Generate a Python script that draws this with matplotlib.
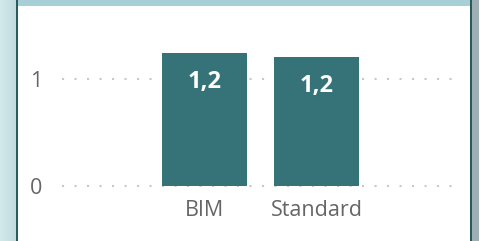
import matplotlib
matplotlib.use('Agg')
import matplotlib.pyplot as plt
import numpy as np
from matplotlib.patches import Rectangle
from matplotlib.colors import LinearSegmentedColormap

categories = ['BIM', 'Standard']
values = [1.24, 1.21]
bar_labels = ['1,2', '1,2']

plt.rcParams['font.family'] = ['Open Sans', 'DejaVu Sans']

W, H = 479, 241
fig = plt.figure(figsize=(W / 100, H / 100), dpi=100)
fig.patch.set_facecolor('white')

# frame decorations (pixel coords -> figure fraction)
def px_rect(x0, y0, x1, y1, color):
    fig.patches.append(Rectangle((x0 / W, 1 - y1 / H), (x1 - x0) / W, (y1 - y0) / H,
                                 transform=fig.transFigure, facecolor=color,
                                 edgecolor='none', zorder=0))

# left gradient strip
strip = fig.add_axes([0, 0, 16 / W, 1])
grad = np.linspace(0, 1, 50)[None, :]
cm = LinearSegmentedColormap.from_list('s', ['#d3e9eb', '#c0dcdf'])
strip.imshow(grad, aspect='auto', cmap=cm, extent=[0, 1, 0, 1])
strip.axis('off')

px_rect(16, 0, 18, H, '#285a5e')
px_rect(18, 0, 470, 6, '#a6d0d6')
px_rect(470, 0, 472, H, '#285a5e')
px_rect(472, 0, W, H, '#9eb0b3')

# main axes
x_left, x_right = 62, 460
y_zero, px_per_unit = 186, 107
ymax = 1.35
y_top = y_zero - ymax * px_per_unit
ax = fig.add_axes([x_left / W, 1 - y_zero / H, (x_right - x_left) / W, (y_zero - y_top) / H])
ax.set_facecolor('none')

x = np.arange(len(categories))
ax.bar(x, values, width=0.76, color='#367378', zorder=3)
for xi, v, lab in zip(x, values, bar_labels):
    ax.annotate(lab, (xi, v), xytext=(0, -29), textcoords='offset pixels',
                ha='center', va='center', color='white', fontsize=17,
                fontweight='bold', zorder=4)

ax.set_xlim(-1.272, 2.281)
ax.set_ylim(0, ymax)
ax.set_yticks([0, 1])
ax.set_yticklabels(['0', '1'])
ax.set_xticks(x)
ax.set_xticklabels(categories)
ax.tick_params(length=0, labelsize=15.5, labelcolor='#666666')
ax.tick_params(axis='y', pad=14.5)
ax.tick_params(axis='x', pad=10)
for s in ax.spines.values():
    s.set_visible(False)
for yv in [0, 1]:
    ax.axhline(yv, color='#c8c8c8', linewidth=1.5, linestyle=(0, (1, 5)),
               dash_capstyle='butt', zorder=1, clip_on=False)

fig.savefig('out.png', dpi=100)
